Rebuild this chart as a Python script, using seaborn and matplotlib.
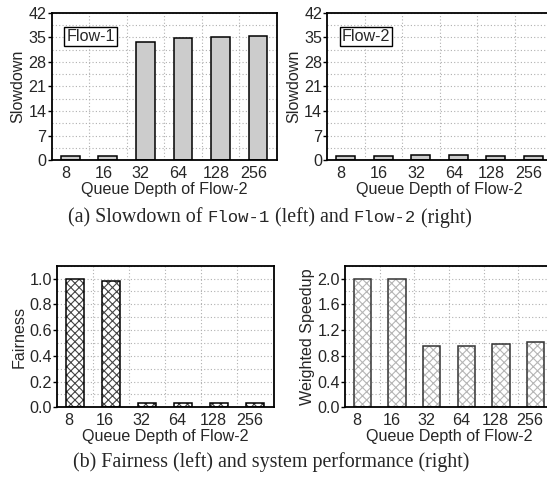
import numpy as np
import pandas as pd
import matplotlib
matplotlib.use("Agg")
import matplotlib.pyplot as plt
import seaborn as sns
from matplotlib.ticker import MultipleLocator, FixedLocator
from matplotlib.transforms import ScaledTranslation

depths = ['8', '16', '32', '64', '128', '256']
flow1_slowdown = [1.2, 1.2, 33.6, 34.7, 35.2, 35.4]
flow2_slowdown = [1.2, 1.2, 1.4, 1.4, 1.2, 1.2]
fairness = [1.0, 0.98, 0.03, 0.03, 0.03, 0.03]
weighted_speedup = [2.0, 2.0, 0.95, 0.95, 0.99, 1.01]
xlabel = 'Queue Depth of Flow-2'

sns.set_theme(style='white')
plt.rcParams['font.family'] = ['Liberation Sans', 'DejaVu Sans']
plt.rcParams['hatch.linewidth'] = 0.8

W, H = 547, 478
fig = plt.figure(figsize=(W / 100, H / 100), dpi=100)

def ax_px(l, r, t, b):
    return fig.add_axes([l / W, 1 - b / H, (r - l) / W, (b - t) / H])

ax_tl = ax_px(51.5, 276.8, 12.7, 160.3)
ax_tr = ax_px(327, 552, 12.7, 160.3)
ax_bl = ax_px(57, 273.5, 265.7, 407.3)
ax_br = ax_px(345, 553, 265.7, 407.3)

FS = 11.6

def style(ax, ylim, major, minor, ylabel, shift_px):
    ax.set_xlim(-0.5, 5.5)
    ax.set_ylim(*ylim)
    ax.yaxis.set_major_locator(MultipleLocator(major))
    ax.yaxis.set_minor_locator(MultipleLocator(minor))
    ax.xaxis.set_minor_locator(FixedLocator([0.5, 1.5, 2.5, 3.5, 4.5]))
    ax.grid(True, which='both', axis='y', color='#b0b0b0', linestyle=(0, (1, 2)), linewidth=0.8)
    ax.grid(True, which='minor', axis='x', color='#b0b0b0', linestyle=(0, (1, 2)), linewidth=0.8)
    ax.grid(False, which='major', axis='x')
    ax.set_axisbelow(True)
    for s in ax.spines.values():
        s.set_visible(True)
        s.set_color('black')
        s.set_linewidth(1.3)
    ax.tick_params(axis='y', which='major', direction='out', length=3, width=1, color='black',
                   labelsize=FS, pad=0.5, left=True)
    ax.tick_params(axis='y', which='minor', length=0)
    ax.tick_params(axis='x', which='both', length=0, labelsize=FS, pad=4)
    ax.set_xlabel(xlabel, fontsize=FS, labelpad=0.5)
    ax.set_ylabel(ylabel, fontsize=FS, labelpad=2)
    off = ScaledTranslation(-shift_px / 100, 0, fig.dpi_scale_trans)
    for lab in ax.get_xticklabels():
        lab.set_transform(lab.get_transform() + off)

def draw(ax, vals, hatch=None, hatch_color=None, fill='#cccccc', edge='black'):
    df = pd.DataFrame({'depth': depths, 'val': vals})
    sns.barplot(data=df, x='depth', y='val', ax=ax, color=fill, saturation=1,
                edgecolor=edge, linewidth=1.1, width=0.5, order=depths)
    for p in ax.patches:
        p.set_facecolor(fill)
        if hatch:
            p.set_hatch(hatch)
            p._hatch_color = matplotlib.colors.to_rgba(hatch_color)

draw(ax_tl, flow1_slowdown)
style(ax_tl, (0, 42), 7, 3.5, 'Slowdown', 4.5)
draw(ax_tr, flow2_slowdown)
style(ax_tr, (0, 42), 7, 3.5, 'Slowdown', 4.5)
draw(ax_bl, fairness, hatch='xxxx', hatch_color='#444444', fill='white', edge='black')
style(ax_bl, (0, 1.1), 0.2, 0.1, 'Fairness', 6)
draw(ax_br, weighted_speedup, hatch='xxxx', hatch_color='#b5b5b5', fill='white', edge='#333333')
style(ax_br, (0, 2.2), 0.4, 0.2, 'Weighted Speedup', 5.5)

for ax, lab in [(ax_tl, 'Flow-1'), (ax_tr, 'Flow-2')]:
    ax.text(0.066, 0.84, lab, transform=ax.transAxes, ha='left', va='center', fontsize=FS,
            bbox=dict(boxstyle='square,pad=0.12', facecolor='white', edgecolor='black', linewidth=1))

# captions with mixed fonts
def caption(parts, y_px, center_px):
    fig.canvas.draw()
    r = fig.canvas.get_renderer()
    texts = []
    for s, fam, fs in parts:
        t = fig.text(0, 1 - y_px / H, s, fontsize=fs, family=fam, va='center', ha='left')
        texts.append(t)
    widths = [t.get_window_extent(r).width for t in texts]
    total = sum(widths)
    x = center_px - total / 2
    for t, w in zip(texts, widths):
        t.set_x(x / W)
        x += w

serif = ['Liberation Serif', 'DejaVu Serif']
mono = ['Liberation Mono', 'DejaVu Sans Mono']
SF, MF = 14.4, 12.4
caption([('(a) Slowdown of ', serif, SF), ('Flow-1', mono, MF), (' (left) and ', serif, SF),
         ('Flow-2', mono, MF), (' (right)', serif, SF)], 218, 270)
caption([('(b) Fairness (left) and system performance (right)', serif, SF)], 462, 271)

fig.savefig('out.png', dpi=100)
